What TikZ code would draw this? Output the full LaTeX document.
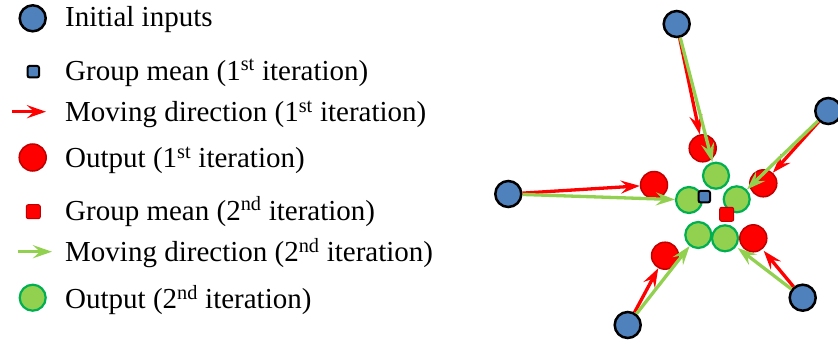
\documentclass[tikz,border=0pt]{standalone}
\usepackage{fontspec}
\setmainfont{Liberation Serif}
\usetikzlibrary{arrows.meta}
\definecolor{cblue}{RGB}{79,129,189}
\definecolor{cred}{RGB}{255,0,0}
\definecolor{credb}{RGB}{192,0,0}
\definecolor{cgreen}{RGB}{146,208,80}
\definecolor{cgreenb}{RGB}{0,176,80}
\begin{document}
\begin{tikzpicture}[x=1pt,y=-1pt,
 inp/.style={circle,draw=black,fill=cblue,line width=2.5pt,minimum size=26pt,inner sep=0pt},
 outA/.style={circle,draw=credb,fill=cred,line width=1.5pt,minimum size=27pt,inner sep=0pt},
 outB/.style={circle,draw=cgreenb,fill=cgreen,line width=2.2pt,minimum size=26pt,inner sep=0pt},
 meanA/.style={rectangle,rounded corners=2pt,draw=black,fill=cblue,line width=2pt,minimum size=11.5pt,inner sep=0pt},
 meanB/.style={rectangle,rounded corners=2pt,draw=credb,fill=cred,line width=1pt,minimum size=14pt,inner sep=0pt},
 mvA/.style={draw=cred,line width=3.3pt,-{Stealth[length=19pt,width=13pt,inset=7pt]}},
 mvB/.style={draw=cgreen,line width=3.3pt,-{Stealth[length=19pt,width=13pt,inset=7pt]}},
 lgA/.style={draw=cred,line width=3.2pt,-{Stealth[length=19pt,width=13pt,inset=7pt]}},
 lgB/.style={draw=cgreen,line width=3.2pt,-{Stealth[length=19pt,width=13pt,inset=7pt]}},
 lbl/.style={anchor=base west,inner sep=0pt,font=\fontsize{29pt}{34pt}\selectfont}
]
\useasboundingbox (0,0) rectangle (838,343);
% legend
\node[inp] (l1) at (32.7,18.3) {};
\node[lbl] (t1) at (65,26.7) {Initial inputs};
\node[meanA] (l2) at (33.3,71.7) {};
\node[lbl] (t2) at (65,80) {Group mean (1\textsuperscript{st} iteration)};
\coordinate (l3s) at (12,111.7);
\coordinate (l3e) at (46,111.7);
\draw[lgA] (l3s) -- (l3e);
\node[lbl] (t3) at (65,121.7) {Moving direction (1\textsuperscript{st} iteration)};
\node[outA] (l4) at (32.7,157.5) {};
\node[lbl] (t4) at (65,167.5) {Output (1\textsuperscript{st} iteration)};
\node[meanB] (l5) at (33.3,211.7) {};
\node[lbl] (t5) at (65,220) {Group mean (2\textsuperscript{nd} iteration)};
\coordinate (l6s) at (18,251.7);
\coordinate (l6e) at (52,251.7);
\draw[lgB] (l6s) -- (l6e);
\node[lbl] (t6) at (65,261.7) {Moving direction (2\textsuperscript{nd} iteration)};
\node[outB] (l7) at (32.7,297.7) {};
\node[lbl] (t7) at (65,308.3) {Output (2\textsuperscript{nd} iteration)};
% diagram
\node[inp] (bT) at (676.7,24) {};
\node[inp] (bR) at (828.3,111) {};
\node[inp] (bL) at (508.3,194) {};
\node[inp] (bBL) at (627.7,325) {};
\node[inp] (bBR) at (802.7,297.7) {};
\node[outA] (rT) at (702.7,148.3) {};
\node[outA] (rL) at (654,185) {};
\node[outA] (rR) at (763.3,183.3) {};
\node[outA] (rBR) at (753.3,238.3) {};
\node[outA] (rBL) at (665,255.7) {};
\node[outB] (gT) at (716,175.7) {};
\node[outB] (gL) at (689,200) {};
\node[outB] (gR) at (736.7,199.3) {};
\node[outB] (gBL) at (698.3,235) {};
\node[outB] (gBR) at (725,238.3) {};
\node[meanA] (mA) at (704.3,196.7) {};
\node[meanB] (mB) at (726.7,214.3) {};
\draw[mvA] (bT) -- (rT);
\draw[mvB] (bT) -- (gT);
\draw[mvA] (bL) -- (rL);
\draw[mvB] (bL) -- (gL);
\draw[mvA] (bR) -- (rR);
\draw[mvB] (bR) -- (gR);
\draw[mvA] (bBL) -- (rBL);
\draw[mvB] (bBL) -- (gBL);
\draw[mvA,shorten >=2pt] (bBR) -- (rBR);
\draw[mvB,shorten >=2pt] (bBR) -- (gBR);
\end{tikzpicture}
\end{document}
